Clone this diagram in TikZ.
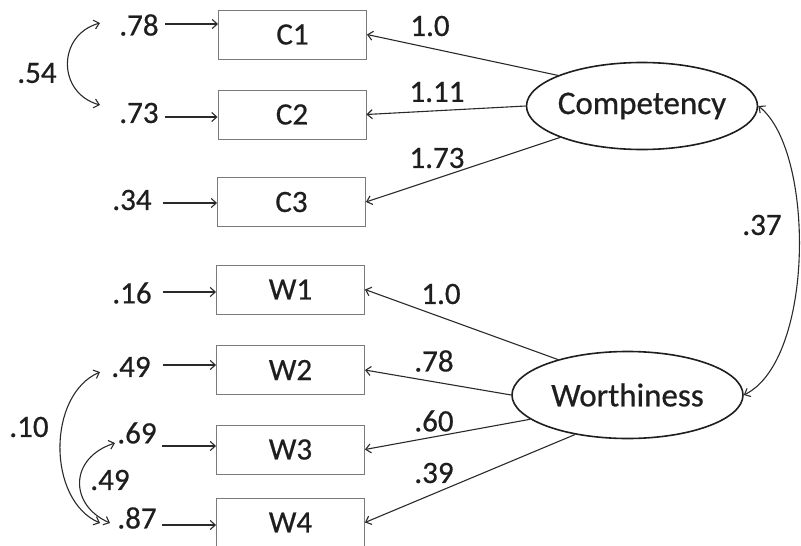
\documentclass[tikz,border=0pt]{standalone}
\usepackage{fontspec}
\setmainfont{Carlito}[FakeBold=0.6]
\usetikzlibrary{arrows.meta,shapes.geometric}
\definecolor{txt}{HTML}{1E1E1E}
\definecolor{boxgray}{HTML}{7A7A7A}
\definecolor{linec}{HTML}{2A2A2A}
\begin{document}
\begin{tikzpicture}[x=1pt,y=-1pt,
  ind/.style={draw=boxgray, line width=0.9pt, minimum width=148pt, minimum height=49pt, inner sep=0pt, font=\fontsize{31}{31}\selectfont, text=txt},
  lat/.style={ellipse, draw=txt, line width=1.6pt, inner sep=0pt, minimum width=231pt, minimum height=87pt},
  lattext/.style={inner sep=0pt, font=\fontsize{33}{33}\selectfont, text=txt},
  num/.style={inner sep=0pt, font=\fontsize{31}{31}\selectfont, text=txt},
  con/.style={draw=linec, line width=1.1pt, -{Straight Barb[length=5pt,width=9pt]}},
  cov/.style={draw=linec, line width=1.1pt, {Straight Barb[length=5pt,width=9pt]}-{Straight Barb[length=5pt,width=9pt]}},
]
\useasboundingbox (0,0) rectangle (801,546);

% indicator boxes
\node[ind] (C1) at (292.5,34.5) {C1};
\node[ind] (C2) at (292,114.5) {C2};
\node[ind] (C3) at (291.5,202) {C3};
\node[ind] (W1) at (290.5,289.5) {W1};
\node[ind] (W2) at (290.5,370) {W2};
\node[ind] (W3) at (290.5,449.5) {W3};
\node[ind] (W4) at (290.5,522.5) {W4};

% latent variables
\node[lat, label={[lattext]center:Competency}] (comp) at (642,106) {};
\node[lat, label={[lattext]center:Worthiness}] (worth) at (627.5,395) {};

% error variances
\node[num] (e1) at (139,25) {.78};
\node[num] (e2) at (139,113) {.73};
\node[num] (e3) at (132,200) {.34};
\node[num] (e4) at (132,293) {.16};
\node[num] (e5) at (131,367) {.49};
\node[num] (e6) at (137,433) {.69};
\node[num] (e7) at (137,518) {.87};

\coordinate (a1) at (165,24);
\coordinate (a2) at (165,117);
\coordinate (a3) at (163,203);
\coordinate (a4) at (163,292);
\coordinate (a5) at (163,365);
\coordinate (a6) at (162,446);
\coordinate (a7) at (162,525);
\draw[con] (a1) -- (a1 -| C1.west);
\draw[con] (a2) -- (a2 -| C2.west);
\draw[con] (a3) -- (a3 -| C3.west);
\draw[con] (a4) -- (a4 -| W1.west);
\draw[con] (a5) -- (a5 -| W2.west);
\draw[con] (a6) -- (a6 -| W3.west);
\draw[con] (a7) -- (a7 -| W4.west);

% loadings
\draw[con] (comp.160.6) -- (C1.east);
\draw[con] (comp.west) -- (C2.east);
\draw[con] (comp.201.3) -- (C3.east);
\draw[con] (worth.153.9) -- (W1.east);
\draw[con] (worth.west) -- (W2.east);
\draw[con] (worth.194) -- (W3.east);
\draw[con] (worth.217.9) -- (W4.east);

\node[num] (l1) at (430,26) {1.0};
\node[num] (l2) at (437,92) {1.11};
\node[num] (l3) at (437,158) {1.73};
\node[num] (l4) at (441,294) {1.0};
\node[num] (l5) at (434,361) {.78};
\node[num] (l6) at (434,421) {.60};
\node[num] (l7) at (434,473) {.39};

% error covariances
\coordinate (t1) at (100,23);
\coordinate (b1) at (100,105);
\draw[cov] (t1) .. controls (57,35) and (57,93) .. (b1);
\node[num] (k1) at (37,73) {.54};

\coordinate (t2) at (100,372);
\coordinate (b2) at (100,523);
\draw[cov] (t2) .. controls (47,395) and (47,500) .. (b2);
\node[num] (k2) at (29,427) {.10};

\coordinate (t3) at (115,443);
\coordinate (b3) at (110,523);
\draw[cov] (t3) .. controls (69,458) and (69,505) .. (b3);
\node[num] (k3) at (110,480) {.49};

% factor covariance
\draw[cov] (comp.east) .. controls (815,150) and (815,360) .. (worth.east);
\node[num] (k4) at (762,225) {.37};
\end{tikzpicture}
\end{document}
